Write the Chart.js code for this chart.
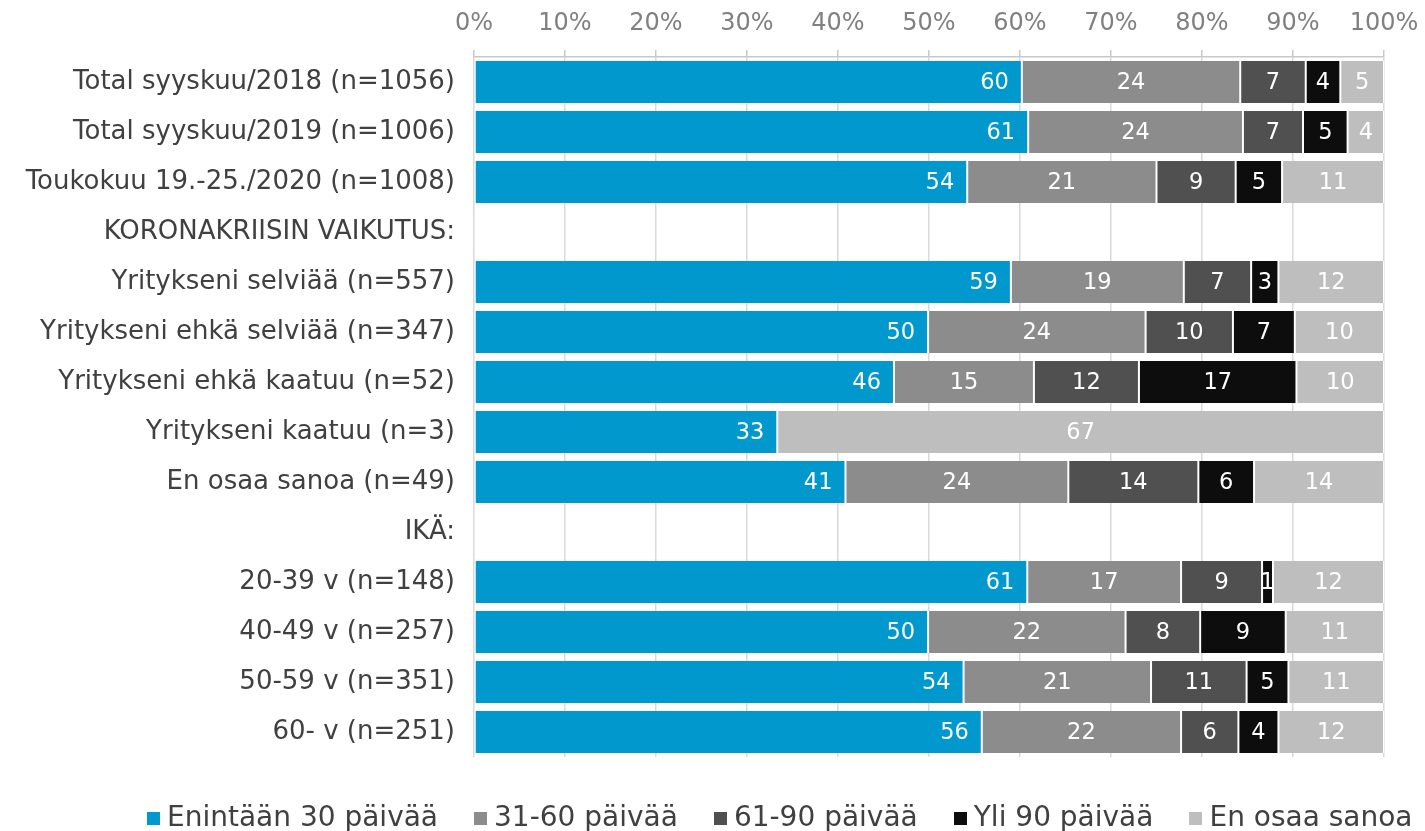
<!DOCTYPE html>
<html lang="fi">
<head>
    <meta charset="UTF-8">
    <title>Maksuaika</title>
    <script src="https://cdn.jsdelivr.net/npm/chart.js"></script>
    <style>
        body {
            margin: 0;
            background-color: #fff;
            font-family: "DejaVu Sans", Verdana, sans-serif;
        }
        .wrap {
            position: relative;
            width: 1425px;
            height: 831px;
            overflow: hidden;
        }
        .legend {
            position: absolute;
            left: 147px;
            top: 803px;
            display: flex;
            white-space: nowrap;
            font-size: 28px;
            line-height: 28px;
            color: #404040;
        }
        .legend span.item {
            display: flex;
            align-items: center;
            margin-right: 36px;
        }
        .legend span.item:last-child {
            margin-right: 0;
        }
        .legend i {
            display: inline-block;
            width: 13px;
            height: 13px;
            margin-right: 7px;
            margin-top: 2px;
        }
    </style>
</head>
<body>
    <div class="wrap">
        <canvas id="chart"></canvas>
        <div class="legend" id="legend"></div>
    </div>
    <script>
        const categories = [
            'Total syyskuu/2018 (n=1056)',
            'Total syyskuu/2019 (n=1006)',
            'Toukokuu 19.-25./2020 (n=1008)',
            'KORONAKRIISIN VAIKUTUS:',
            'Yritykseni selviää (n=557)',
            'Yritykseni ehkä selviää (n=347)',
            'Yritykseni ehkä kaatuu (n=52)',
            'Yritykseni kaatuu (n=3)',
            'En osaa sanoa (n=49)',
            'IKÄ:',
            '20-39 v (n=148)',
            '40-49 v (n=257)',
            '50-59 v (n=351)',
            '60- v (n=251)'
        ];

        const seriesNames = ['Enintään 30 päivää', '31-60 päivää', '61-90 päivää', 'Yli 90 päivää', 'En osaa sanoa'];
        const seriesColors = ['#0098cd', '#8c8c8c', '#505050', '#0d0d0d', '#bebebe'];

        const enintaan30 = [60.2, 60.9, 54.2, null, 59.0, 49.9, 46.15, 33.33, 40.82, null, 60.8, 49.9, 53.8, 55.8];
        const paivaa31_60 = [24.0, 23.6, 20.8, null, 19.0, 23.9, 15.38, 0, 24.49, null, 16.9, 21.7, 20.6, 21.9];
        const paivaa61_90 = [7.2, 6.6, 8.7, null, 7.4, 9.6, 11.54, 0, 14.29, null, 8.9, 8.2, 10.5, 6.3];
        const yli90 = [3.8, 4.9, 5.1, null, 3.0, 6.8, 17.31, 0, 6.12, null, 1.2, 9.4, 4.6, 4.4];
        const enOsaa = [4.8, 4.0, 11.2, null, 11.6, 9.8, 9.62, 66.67, 14.29, null, 12.2, 10.8, 10.5, 11.6];

        const xTicks = [0, 10, 20, 30, 40, 50, 60, 70, 80, 90, 100];

        const seriesValues = [enintaan30, paivaa31_60, paivaa61_90, yli90, enOsaa];

        // value labels inside the bars
        const barLabels = {
            id: 'barLabels',
            afterDatasetsDraw(chart) {
                const ctx = chart.ctx;
                ctx.save();
                ctx.font = '22.5px "DejaVu Sans"';
                ctx.fillStyle = '#fff';
                ctx.textBaseline = 'middle';
                chart.data.datasets.forEach((ds, i) => {
                    const meta = chart.getDatasetMeta(i);
                    meta.data.forEach((bar, j) => {
                        const v = ds.data[j];
                        if (!v) return;
                        const p = bar.getProps(['x', 'y', 'base'], true);
                        const txt = String(Math.round(v));
                        if (i === 0) {
                            ctx.textAlign = 'right';
                            ctx.fillText(txt, p.x - 13, p.y + 1);
                        } else {
                            ctx.textAlign = 'center';
                            ctx.fillText(txt, (p.x + p.base) / 2, p.y + 1);
                        }
                    });
                });
                ctx.restore();
            }
        };

        const ctx = document.getElementById('chart').getContext('2d');
        new Chart(ctx, {
            type: 'bar',
            data: {
                labels: categories,
                datasets: seriesValues.map((vals, i) => ({
                    label: seriesNames[i],
                    data: vals,
                    backgroundColor: seriesColors[i],
                    borderColor: '#fff',
                    borderWidth: { left: 1, right: 1, top: 0, bottom: 0 },
                    borderSkipped: false,
                    barPercentage: 0.84,
                    categoryPercentage: 1
                }))
            },
            options: {
                indexAxis: 'y',
                responsive: true,
                maintainAspectRatio: false,
                animation: false,
                layout: { padding: { top: 0, right: 41, bottom: 74, left: 0 } },
                plugins: {
                    legend: { display: false },
                    tooltip: { enabled: false }
                },
                scales: {
                    x: {
                        position: 'top',
                        stacked: true,
                        min: 0,
                        max: 100,
                        afterBuildTicks: (s) => { s.ticks = xTicks.map(v => ({ value: v })); },
                        afterFit: (s) => {
                            s.height = 57;
                            s.paddingLeft = 0;
                            s.paddingRight = 0;
                        },
                        ticks: {
                            callback: (v) => v + '%',
                            color: '#808080',
                            font: { family: 'DejaVu Sans', size: 24 },
                            padding: 12
                        },
                        grid: {
                            color: '#d9d9d9',
                            lineWidth: 1.5,
                            tickLength: 7,
                            tickColor: '#c8c8c8'
                        },
                        border: { display: true, color: '#c8c8c8', width: 1.5 }
                    },
                    y: {
                        stacked: true,
                        afterFit: (s) => { s.width = 474; },
                        ticks: {
                            color: '#404040',
                            font: { family: 'DejaVu Sans', size: 26 },
                            padding: 19
                        },
                        grid: { display: false, drawTicks: false },
                        border: { display: false }
                    }
                }
            },
            plugins: [barLabels]
        });

        // legend below the chart
        const legend = document.getElementById('legend');
        seriesNames.forEach((name, i) => {
            const item = document.createElement('span');
            item.className = 'item';
            const box = document.createElement('i');
            box.style.background = seriesColors[i];
            item.appendChild(box);
            item.appendChild(document.createTextNode(name));
            legend.appendChild(item);
        });
    </script>
</body>
</html>
